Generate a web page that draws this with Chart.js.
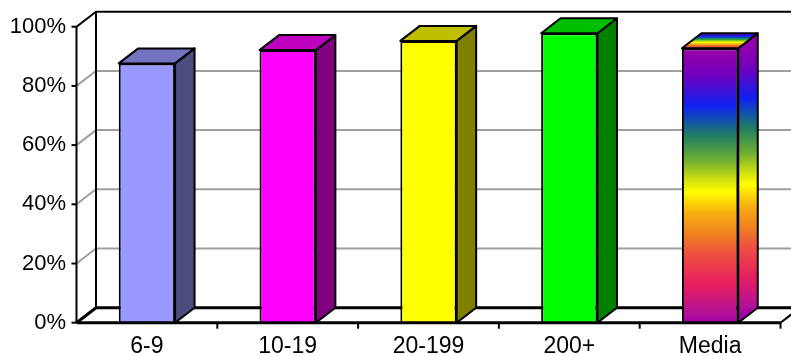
<!DOCTYPE html>
<html>
<head>
<meta charset="utf-8">
<script src="https://cdn.jsdelivr.net/npm/chart.js@4"></script>
<style>
  html, body { margin: 0; padding: 0; background: #ffffff; }
  #wrap { width: 791px; height: 356px; }
</style>
</head>
<body>
<div id="wrap"><canvas id="barChart" width="791" height="356"></canvas></div>
<script>
const categories = ['6-9', '10-19', '20-199', '200+', 'Media'];
const percentages = [87.6, 92.1, 95.2, 97.8, 92.7];
const frontColors = ['#9999FF', '#FF00FF', '#FFFF00', '#00FF00', 'rainbow'];
const sideColors = ['#4D4D80', '#800080', '#808000', '#008000', 'rainbow'];
const topColors = ['#7373BF', '#BF00BF', '#BFBF00', '#00BF00', 'rainbow'];

// rainbow fill of the "Media" bar, bottom (0) to top (1)
const rainbowStops = [
  [0, '#A000A8'], [0.03, '#B0109A'], [0.14, '#E81E60'], [0.25, '#F05040'],
  [0.32, '#F08020'], [0.40, '#F8B010'], [0.477, '#FFFF00'], [0.52, '#D0E010'],
  [0.59, '#70B030'], [0.68, '#208060'], [0.74, '#1050B0'], [0.79, '#1020F0'],
  [0.90, '#7000C0'], [1, '#9A00A8']
];
// stripes on the top face, front edge (0) to back edge (1)
const rainbowTopStops = [
  [0, '#E01E50'], [0.2, '#F08020'], [0.4, '#FFFF00'], [0.6, '#20A040'],
  [0.8, '#1020F0'], [1, '#7000C0']
];

const DX = 19.5, DY = 15;
const FAMILY = "'Liberation Sans', Arial, sans-serif";

function makeGradient(ctx, y0, y1, stops) {
  const g = ctx.createLinearGradient(0, y0, 0, y1);
  stops.forEach(s => g.addColorStop(s[0], s[1]));
  return g;
}

function line(ctx, pts, color, width) {
  ctx.beginPath();
  ctx.moveTo(pts[0][0], pts[0][1]);
  for (let i = 1; i < pts.length; i++) ctx.lineTo(pts[i][0], pts[i][1]);
  ctx.strokeStyle = color;
  ctx.lineWidth = width;
  ctx.stroke();
}

const frame3d = {
  id: 'frame3d',
  beforeDatasetsDraw(chart) {
    const ctx = chart.ctx, a = chart.chartArea, ys = chart.scales.y, xs = chart.scales.x;
    const W = chart.width + 20;
    ctx.save();
    ctx.lineCap = 'butt';
    // grid lines: left wall diagonal + back wall
    ys.ticks.forEach(t => {
      if (t.value <= 0 || t.value >= 100) return;
      const py = ys.getPixelForValue(t.value);
      line(ctx, [[a.left, py], [a.left + DX, py - DY], [W, py - DY]], '#A0A0A0', 2);
    });
    // top edge of walls
    line(ctx, [[a.left, a.top], [a.left + DX, a.top - DY], [W, a.top - DY]], '#000', 2);
    // back wall left edge
    line(ctx, [[a.left + DX, a.top - DY], [a.left + DX, a.bottom - DY]], '#000', 2);
    // floor
    line(ctx, [[a.left, a.bottom], [a.left + DX, a.bottom - DY], [W, a.bottom - DY]], '#000', 3);
    line(ctx, [[a.right, a.bottom], [a.right + DX, a.bottom - DY]], '#000', 2);
    // front value axis
    line(ctx, [[a.left, a.top], [a.left, a.bottom]], '#000', 2);
    ys.ticks.forEach(t => {
      const py = ys.getPixelForValue(t.value);
      line(ctx, [[a.left - 5, py], [a.left, py]], '#000', 2);
    });
    // category tick marks
    for (let i = 1; i <= categories.length; i++) {
      const px = xs.getPixelForValue(i - 0.5);
      line(ctx, [[px, a.bottom], [px, a.bottom + 6]], '#000', 2);
    }
    ctx.restore();
  },
  afterDatasetsDraw(chart) {
    const ctx = chart.ctx, a = chart.chartArea;
    const meta = chart.getDatasetMeta(0);
    ctx.save();
    ctx.lineJoin = 'round';
    meta.data.forEach((bar, i) => {
      const { x, y, base, width } = bar.getProps(['x', 'y', 'base', 'width'], true);
      const l = x - width / 2, r = x + width / 2;
      // side face
      ctx.beginPath();
      ctx.moveTo(r, y);
      ctx.lineTo(r + DX, y - DY);
      ctx.lineTo(r + DX, base - DY);
      ctx.lineTo(r, base);
      ctx.closePath();
      ctx.fillStyle = sideColors[i] === 'rainbow'
        ? makeGradient(ctx, base - DY / 2, y - DY / 2, rainbowStops) : sideColors[i];
      ctx.fill();
      ctx.strokeStyle = '#000';
      ctx.lineWidth = 2;
      ctx.stroke();
      // top face
      ctx.beginPath();
      ctx.moveTo(l, y);
      ctx.lineTo(l + DX, y - DY);
      ctx.lineTo(r + DX, y - DY);
      ctx.lineTo(r, y);
      ctx.closePath();
      ctx.fillStyle = topColors[i] === 'rainbow'
        ? makeGradient(ctx, y, y - DY, rainbowTopStops) : topColors[i];
      ctx.fill();
      ctx.stroke();
    });
    // front floor edge
    line(ctx, [[a.left, a.bottom], [a.right, a.bottom]], '#000', 3);
    ctx.restore();
  }
};

const ctx = document.getElementById('barChart');

new Chart(ctx, {
  type: 'bar',
  data: {
    labels: categories,
    datasets: [{
      data: percentages,
      backgroundColor(c) {
        const col = frontColors[c.dataIndex];
        if (col !== 'rainbow') return col;
        const area = c.chart.chartArea, ys = c.chart.scales.y;
        if (!area || !ys) return '#FFFF00';
        return makeGradient(c.chart.ctx, ys.getPixelForValue(0),
          ys.getPixelForValue(percentages[c.dataIndex]), rainbowStops);
      },
      borderColor: '#000',
      borderWidth: 2,
      barPercentage: 0.4,
      categoryPercentage: 1
    }]
  },
  options: {
    responsive: false,
    animation: false,
    layout: { padding: { left: 0, right: 10.5, top: 26.7, bottom: 0 } },
    plugins: { legend: { display: false }, tooltip: { enabled: false } },
    scales: {
      x: {
        grid: { display: false, drawTicks: false },
        border: { display: false },
        ticks: { color: '#000', font: { family: FAMILY, size: 23 }, padding: 10,
          maxRotation: 0, autoSkip: false },
        afterFit(s) { s.height = 33.3; }
      },
      y: {
        min: 0,
        max: 100,
        grid: { display: false, drawTicks: false },
        border: { display: false },
        ticks: { stepSize: 20, color: '#000', font: { family: FAMILY, size: 22 }, padding: 10.5,
          callback: v => v + '%' },
        afterFit(s) { s.width = 76.5; }
      }
    }
  },
  plugins: [frame3d]
});
</script>
</body>
</html>
